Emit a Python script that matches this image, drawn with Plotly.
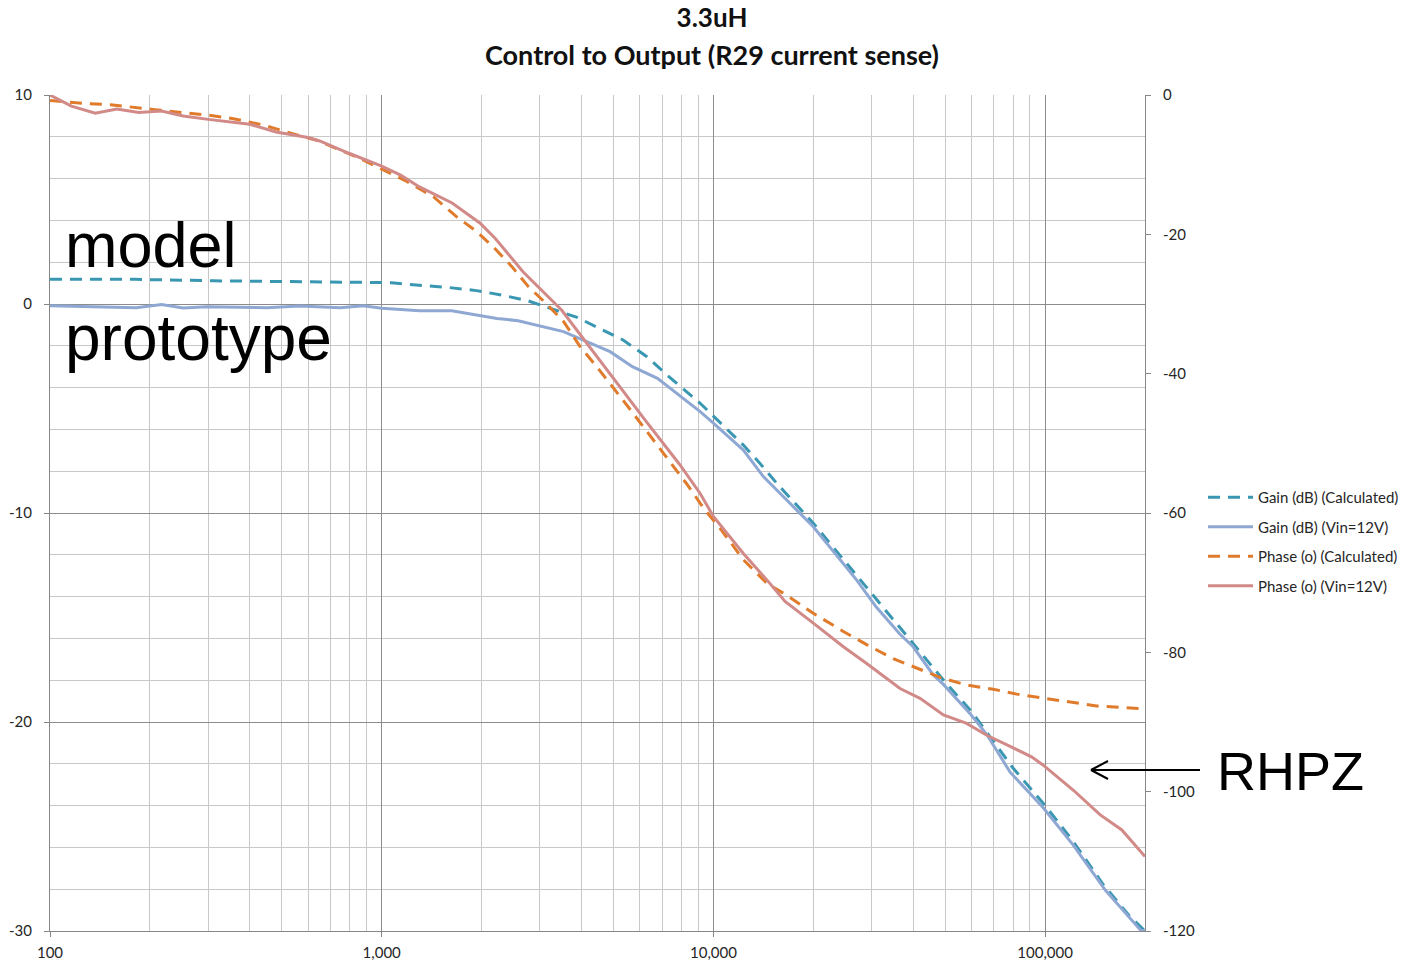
import numpy as np
import plotly.graph_objects as go

# ---- Gain (dB), calculated model ----
gain_calc_f = [100, 180, 310, 715, 1070, 1270, 1570, 1930, 2300, 2750, 3215, 3880,
               4525, 5340, 6300, 7250, 9120, 10750, 12310, 13800, 15520, 20000,
               28300, 40000, 50000, 60000, 80000, 100000, 120000, 150000, 180000, 200000]
gain_calc_db = [1.18, 1.18, 1.11, 1.07, 1.02, 0.91, 0.80, 0.64, 0.43, 0.16, -0.20, -0.64,
                -1.16, -1.72, -2.52, -3.40, -4.75, -5.87, -6.75, -7.62, -8.58, -10.49,
                -13.36, -16.20, -18.10, -19.50, -22.20, -24.00, -25.60, -27.80, -29.30, -30.00]

# ---- Gain (dB), measured at Vin=12V ----
gain_meas_f = [100, 120, 150, 182, 217, 252, 297, 350, 450, 567, 750, 880, 1000, 1300,
               1626, 2225, 2577, 3532, 4052, 4880, 5700, 6780, 9120, 10000, 12310, 14140,
               17830, 20000, 27000, 30970, 36520, 40000, 46000, 49350, 59400, 66700,
               78400, 98700, 121700, 152000, 194000, 200000]
gain_meas_db = [-0.08, -0.10, -0.15, -0.18, -0.03, -0.19, -0.13, -0.16, -0.18, -0.10, -0.18,
                -0.08, -0.20, -0.32, -0.32, -0.69, -0.80, -1.32, -1.72, -2.28, -3.00, -3.56,
                -5.15, -5.70, -6.99, -8.26, -9.86, -10.66, -13.20, -14.50, -15.80, -16.40,
                -17.75, -18.20, -19.60, -20.60, -22.40, -24.10, -25.90, -28.05, -29.96, -30.00]

# ---- Phase (deg), calculated model ----
phase_calc_f = [100, 126, 152, 178, 207, 249, 300, 357, 439, 517, 637, 860, 1000, 1190,
                1431, 1683, 1911, 2169, 2465, 2767, 3142, 3532, 3963, 4448, 5500, 7000,
                8300, 9440, 10470, 12310, 14490, 16640, 20000, 24650, 28970, 34840,
                41000, 48200, 58000, 69800, 82100, 98700, 118800, 142900, 168200, 200000]
phase_calc_deg = [-0.8, -1.2, -1.4, -1.8, -2.1, -2.5, -2.9, -3.4, -4.3, -5.3, -6.5, -9.1,
                  -10.6, -12.4, -14.6, -17.5, -19.4, -21.8, -24.6, -27.5, -30.0, -32.5,
                  -36.1, -39.0, -44.6, -51.2, -55.8, -59.6, -62.2, -66.7, -70.1, -71.8,
                  -74.4, -77.0, -78.9, -80.9, -82.3, -83.6, -84.7, -85.3, -86.0, -86.6,
                  -87.2, -87.7, -87.9, -88.1]

# ---- Phase (deg), measured at Vin=12V ----
phase_meas_f = [100, 116, 137, 159, 185, 217, 252, 300, 400, 480, 600, 650, 800, 900,
                1000, 1140, 1300, 1630, 1980, 2200, 2670, 3490, 4010, 4990, 6300, 7900,
                9120, 10000, 12310, 14490, 16440, 20000, 24650, 28970, 33270, 36520,
                41960, 49350, 58000, 66700, 78400, 91000, 98700, 121700, 146300, 170300,
                200000]
phase_meas_deg = [0.0, -1.6, -2.6, -2.0, -2.5, -2.3, -3.0, -3.5, -4.2, -5.3, -6.1, -6.6,
                  -8.4, -9.3, -10.2, -11.5, -13.2, -15.5, -18.4, -20.6, -25.4, -30.9,
                  -34.7, -40.7, -47.0, -53.0, -57.2, -60.5, -65.8, -69.6, -72.7, -75.8,
                  -79.2, -81.6, -83.7, -85.2, -86.6, -89.0, -90.2, -91.9, -93.5, -95.0,
                  -96.2, -99.8, -103.3, -105.5, -109.3]

x_tick_vals = [100, 1000, 10000, 100000]
x_tick_text = ["100", "1,000", "10,000", "100,000"]
gain_tick_vals = [10, 0, -10, -20, -30]
gain_tick_text = ["10", "0", "-10", "-20", "-30"]
phase_tick_vals = [0, -20, -40, -60, -80, -100, -120]
phase_tick_text = ["0", "-20", "-40", "-60", "-80", "-100", "-120"]

TEAL = "#3A97B2"
BLUE = "#8EA8D3"
ORANGE = "#E07B2C"
PINK = "#D28A88"
MAJOR_GRID = "#8C8C8C"
MINOR_GRID = "#C8C8C8"
AXIS_GREY = "#868686"
UI_FONT = "Lato, Carlito, sans-serif"
TICK_FONT = dict(family=UI_FONT, size=15, color="#262626")
DASH = "12px,8px"

fig = go.Figure()
fig.add_trace(go.Scatter(x=gain_calc_f, y=gain_calc_db, name="Gain (dB) (Calculated)",
                         mode="lines", line=dict(color=TEAL, width=3, dash=DASH),
                         yaxis="y", legendgroup="a"))
fig.add_trace(go.Scatter(x=gain_meas_f, y=gain_meas_db, name="Gain (dB) (Vin=12V)",
                         mode="lines", line=dict(color=BLUE, width=3),
                         yaxis="y", legendgroup="b"))
fig.add_trace(go.Scatter(x=phase_calc_f, y=phase_calc_deg, name="Phase (o) (Calculated)",
                         mode="lines", line=dict(color=ORANGE, width=3, dash=DASH),
                         yaxis="y2", legendgroup="c"))
fig.add_trace(go.Scatter(x=phase_meas_f, y=phase_meas_deg, name="Phase (o) (Vin=12V)",
                         mode="lines", line=dict(color=PINK, width=3),
                         yaxis="y2", legendgroup="d"))

W, H = 1407, 963
L, R, T, B = 50, 262, 95, 32


def px_to_paper(px, py):
    """Convert page pixel coordinates into paper coordinates of the plot area."""
    return (px - L) / (W - L - R), (H - B - py) / (H - T - B)


fig.update_layout(
    width=W, height=H,
    margin=dict(l=L, r=R, t=T, b=B, autoexpand=False),
    paper_bgcolor="white", plot_bgcolor="white",
    showlegend=True,
    legend=dict(x=px_to_paper(1203, 0)[0], xanchor="left",
                y=px_to_paper(0, 481)[1], yanchor="top",
                font=dict(family=UI_FONT, size=15, color="#262626"),
                bgcolor="rgba(0,0,0,0)", tracegroupgap=7, itemwidth=45),
    title=dict(text="<b>3.3uH</b>", x=712 / W, xref="container", xanchor="center",
               y=1 - 18 / H, yref="container", yanchor="middle",
               font=dict(family=UI_FONT, size=26, color="#111111")),
    xaxis=dict(type="log", range=[np.log10(100), np.log10(200000)],
               tickvals=x_tick_vals, ticktext=x_tick_text, automargin=False,
               showgrid=True, gridcolor=MAJOR_GRID, gridwidth=1,
               minor=dict(dtick="D1", showgrid=True, gridcolor=MINOR_GRID, gridwidth=1, ticks=""),
               showline=True, linecolor=AXIS_GREY, linewidth=1,
               ticks="outside", ticklen=5, tickcolor=AXIS_GREY,
               ticklabelstandoff=3, tickfont=TICK_FONT, zeroline=False),
    yaxis=dict(range=[-30, 10], tickvals=gain_tick_vals, ticktext=gain_tick_text,
               automargin=False,
               showgrid=True, gridcolor=MAJOR_GRID, gridwidth=1,
               minor=dict(dtick=2, tick0=0, showgrid=True, gridcolor=MINOR_GRID,
                          gridwidth=1, ticks=""),
               showline=True, linecolor=AXIS_GREY, linewidth=1,
               ticks="outside", ticklen=5, tickcolor=AXIS_GREY,
               ticklabelstandoff=9, tickfont=TICK_FONT, zeroline=False),
    yaxis2=dict(range=[-120, 0], tickvals=phase_tick_vals, ticktext=phase_tick_text,
                overlaying="y", side="right", automargin=False,
                showgrid=False, showline=True, linecolor=AXIS_GREY, linewidth=1,
                ticks="outside", ticklen=5, tickcolor=AXIS_GREY,
                ticklabelstandoff=9, tickfont=TICK_FONT, zeroline=False),
)

# Subtitle line under the title
sx, sy = px_to_paper(712, 55)
fig.add_annotation(text="<b>Control to Output (R29 current sense)</b>", x=sx, y=sy,
                   xref="paper", yref="paper", xanchor="center", yanchor="middle",
                   showarrow=False,
                   font=dict(family=UI_FONT, size=27, color="#111111"))

BIG_FONT = dict(family="Liberation Sans, Arial, sans-serif", color="black")

mx, my = px_to_paper(63, 245)
fig.add_annotation(text="model", x=mx, y=my, xref="paper", yref="paper",
                   xanchor="left", yanchor="middle", showarrow=False,
                   font=dict(size=63, **BIG_FONT))
px_, py_ = px_to_paper(63, 338)
fig.add_annotation(text="prototype", x=px_, y=py_, xref="paper", yref="paper",
                   xanchor="left", yanchor="middle", showarrow=False,
                   font=dict(size=64, **BIG_FONT))
rx, ry = px_to_paper(1215, 771)
fig.add_annotation(text="RHPZ", x=rx, y=ry, xref="paper", yref="paper",
                   xanchor="left", yanchor="middle", showarrow=False,
                   font=dict(size=54, **BIG_FONT))

# Open arrow pointing at the phase bend
hx, hy = px_to_paper(1091, 770)
tx, ty = px_to_paper(1200, 770)
ux, uy = px_to_paper(1108, 761)
lx, ly = px_to_paper(1108, 779)
arrow_line = dict(color="black", width=2)
for x0, y0, x1, y1 in [(tx, ty, hx, hy), (hx, hy, ux, uy), (hx, hy, lx, ly)]:
    fig.add_shape(type="line", xref="paper", yref="paper",
                  x0=x0, y0=y0, x1=x1, y1=y1, line=arrow_line)

fig.write_html("out.html")
